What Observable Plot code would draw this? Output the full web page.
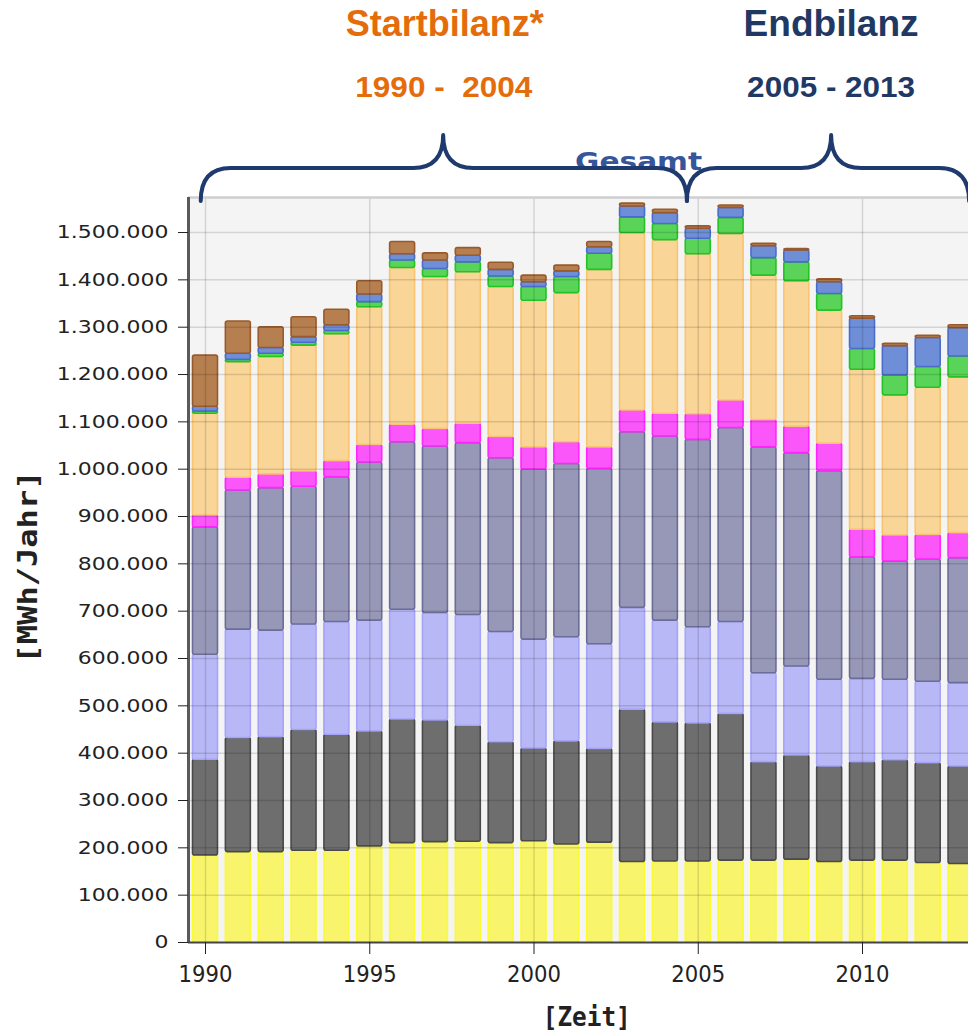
<!DOCTYPE html>
<html>
<head>
<meta charset="utf-8">
<script src="https://cdn.jsdelivr.net/npm/d3@7"></script>
<script src="https://cdn.jsdelivr.net/npm/@observablehq/plot@0.6"></script>
<style>
  body { margin: 0; background: #fff; }
  svg { display: block; }
</style>
</head>
<body>
<div id="chart"></div>
<script>
// ---------- data (MWh/Jahr) ----------
const years = [1990,1991,1992,1993,1994,1995,1996,1997,1998,1999,2000,2001,2002,2003,2004,2005,2006,2007,2008,2009,2010,2011,2012,2013];

const seriesNames = ["Gelb","Dunkelgrau","Lavendel","Graublau","Magenta","Hellorange","Grün","Blau","Braun"];

const gelb       = [184000,191000,191000,194000,194000,203000,210000,212000,213000,210000,214000,207000,211000,170000,171000,171000,173000,173000,175000,170000,173000,173000,168000,166000];
const dunkelgrau = [202000,241000,243000,255000,245000,243000,261000,257000,245000,213000,196000,218000,198000,322000,294000,292000,310000,208000,220000,202000,208000,212000,211000,206000];
const lavendel   = [222000,229000,225000,223000,238000,234000,232000,227000,234000,233000,230000,220000,221000,215000,215000,203000,194000,188000,188000,183000,176000,170000,172000,176000];
const graublau   = [269000,294000,301000,291000,306000,334000,354000,352000,363000,367000,359000,366000,371000,371000,389000,396000,410000,477000,451000,441000,257000,250000,258000,264000];
const magenta    = [25000,27000,29000,32000,34000,37000,37000,37000,41000,45000,47000,46000,45000,46000,48000,54000,58000,58000,56000,58000,58000,55000,52000,53000];
const hellorange = [215000,244000,248000,266000,268000,291000,331000,321000,320000,317000,310000,315000,375000,375000,367000,338000,352000,305000,307000,281000,338000,296000,311000,329000];
const gruen      = [5000,5000,7000,6000,7000,11000,16000,17000,21000,22000,29000,34000,34000,33000,34000,33000,34000,37000,40000,35000,44000,42000,44000,44000];
const blau       = [10000,13000,12000,12000,12000,16000,13000,18000,14000,14000,10000,12000,14000,23000,23000,21000,21000,25000,25000,25000,64000,62000,61000,60000];
const braun      = [108000,68000,44000,42000,33000,28000,26000,15000,16000,15000,14000,12000,11000,6000,7000,5000,5000,5000,3000,6000,5000,5000,5000,6000];

const seriesValues = [gelb, dunkelgrau, lavendel, graublau, magenta, hellorange, gruen, blau, braun];

const fillColors   = ["#f8f56c","#6e6e6e","#b8b8f6","#9797b7","#fa56fa","#f9d597","#59d459","#6e8fd7","#b57f50"];
const strokeColors = ["#fbfb30","#4a4a4a","#a4a4fb","#6c6c98","#ff25ff","#f9c46f","#22c322","#4a6ccc","#985a2c"];

const yTicks = [0,100000,200000,300000,400000,500000,600000,700000,800000,900000,1000000,1100000,1200000,1300000,1400000,1500000];
const xTicks = [1990,1995,2000,2005,2010];

// annotation texts
const titleStart = "Startbilanz*", rangeStart = "1990 -  2004";
const titleEnd = "Endbilanz", rangeEnd = "2005 - 2013";
const gesamtLabel = "Gesamt";
const yLabel = "[MWh/Jahr]", xLabel = "[Zeit]";

// ---------- table ----------
const table = [];
years.forEach((yr, i) => {
  seriesNames.forEach((s, k) => {
    table.push({year: yr, series: s, value: seriesValues[k][i], fill: fillColors[k], stroke: strokeColors[k]});
  });
});

const xDomain = [1989.4825, 2013.2265];
const yMax = 1574000;
const deFmt = d3.formatLocale({decimal: ",", thousands: ".", grouping: [3], currency: ["", " €"]}).format(",d");

const plot = Plot.plot({
  width: 968,
  height: 1034,
  marginTop: 197,
  marginBottom: 92,
  marginLeft: 188,
  marginRight: 0,
  style: {background: "#fff", fontFamily: "DejaVu Sans, Verdana, sans-serif", overflow: "visible"},
  x: {domain: xDomain, axis: null},
  y: {domain: [0, yMax], axis: null},
  color: {type: "identity"},
  marks: [
    Plot.frame({fill: "#f4f4f4", stroke: null}),
    Plot.rect(table, Plot.stackY({
      x: "year",
      x1: d => d.year - 0.38,
      x2: d => d.year + 0.38,
      y: "value",
      fill: d => d.fill,
      stroke: d => d.stroke,
      strokeWidth: 1.6,
      rx: 2
    })),
    Plot.ruleY(yTicks.slice(1), {stroke: "#000", strokeOpacity: 0.13, strokeWidth: 1.5}),
    Plot.ruleX(xTicks, {stroke: "#000", strokeOpacity: 0.13, strokeWidth: 1.5}),
    Plot.ruleY([yMax], {stroke: "#cfcfcf", strokeWidth: 2.5}),
    Plot.ruleX([xDomain[0]], {stroke: "#5a5a5a", strokeWidth: 3}),
    Plot.ruleY([0], {stroke: "#444", strokeWidth: 2}),
    Plot.axisY({ticks: yTicks, tickFormat: deFmt, tickSize: 10, tickPadding: 10, fontSize: 18, label: null, color: "#222"}),
    Plot.axisX({ticks: xTicks, tickFormat: d => String(d), tickSize: 12, tickPadding: 11, fontSize: 23, label: null, color: "#222"})
  ]
});

document.getElementById("chart").appendChild(plot);

const svg = d3.select(plot);

// widen y tick labels like the original
svg.selectAll('g[aria-label="y-axis tick label"] text').each(function () {
  const l = this.getComputedTextLength();
  this.setAttribute("textLength", l * 1.22);
  this.setAttribute("lengthAdjust", "spacingAndGlyphs");
});
svg.selectAll('g[aria-label="x-axis tick label"] text').each(function () {
  const l = this.getComputedTextLength();
  this.setAttribute("textLength", l * 0.92);
  this.setAttribute("lengthAdjust", "spacingAndGlyphs");
});

const xs = plot.scale("x"), ys = plot.scale("y");
const X = v => xs.apply(v);
const frameTop = ys.apply(yMax);

const ann = svg.append("g");
function addText(txt, x, y, o) {
  const t = ann.append("text")
    .attr("x", x).attr("y", y)
    .attr("text-anchor", "middle")
    .style("white-space", "pre")
    .attr("font-family", o.family)
    .attr("font-size", o.size)
    .attr("font-weight", o.weight || "normal")
    .attr("fill", o.color)
    .text(txt);
  if (o.len) t.attr("textLength", o.len).attr("lengthAdjust", "spacingAndGlyphs");
  if (o.transform) t.attr("transform", o.transform);
  return t;
}

const sansBold = "Liberation Sans, Arial, sans-serif";
addText(titleStart, X(1997.3), 36, {family: sansBold, size: 36, weight: "bold", color: "#e46c0a", len: 198});
addText(rangeStart, X(1997.27), 97, {family: sansBold, size: 29, weight: "bold", color: "#e46c0a", len: 177});
addText(titleEnd, X(2009.06), 36, {family: sansBold, size: 36, weight: "bold", color: "#1f3864", len: 175});
addText(rangeEnd, X(2009.06), 97, {family: sansBold, size: 29, weight: "bold", color: "#1f3864", len: 168});
addText(gesamtLabel, X(2003.2), frameTop - 27, {family: "DejaVu Sans, sans-serif", size: 25, weight: 600, color: "#36559a", len: 127});

// axis titles
addText(xLabel, X(2001.62), 1026, {family: "DejaVu Sans Mono, monospace", size: 26, weight: "bold", color: "#222", len: 88});
addText(yLabel, 0, 0, {family: "DejaVu Sans Mono, monospace", size: 26, weight: "bold", color: "#222", len: 193,
  transform: "translate(37,567) rotate(-90)"});

// curly braces
function bracePath(xa, xm, xb, yBase, yMid, yPeak, r) {
  return `M${xa},${yBase} Q${xa},${yMid} ${xa + r},${yMid} L${xm - r},${yMid} Q${xm},${yMid} ${xm},${yPeak} ` +
         `Q${xm},${yMid} ${xm + r},${yMid} L${xb - r},${yMid} Q${xb},${yMid} ${xb},${yBase}`;
}
const braces = [
  {from: 1989.87, peak: 1997.25, to: 2004.67},
  {from: 2004.67, peak: 2009.06, to: 2013.26}
];
braces.forEach(b => {
  ann.append("path")
    .attr("d", bracePath(X(b.from), X(b.peak), X(b.to), frameTop + 4, frameTop - 29, frameTop - 62, 30))
    .attr("fill", "none")
    .attr("stroke", "#1f3a6e")
    .attr("stroke-width", 4)
    .attr("stroke-linecap", "round")
    .attr("stroke-linejoin", "round");
});
</script>
</body>
</html>
